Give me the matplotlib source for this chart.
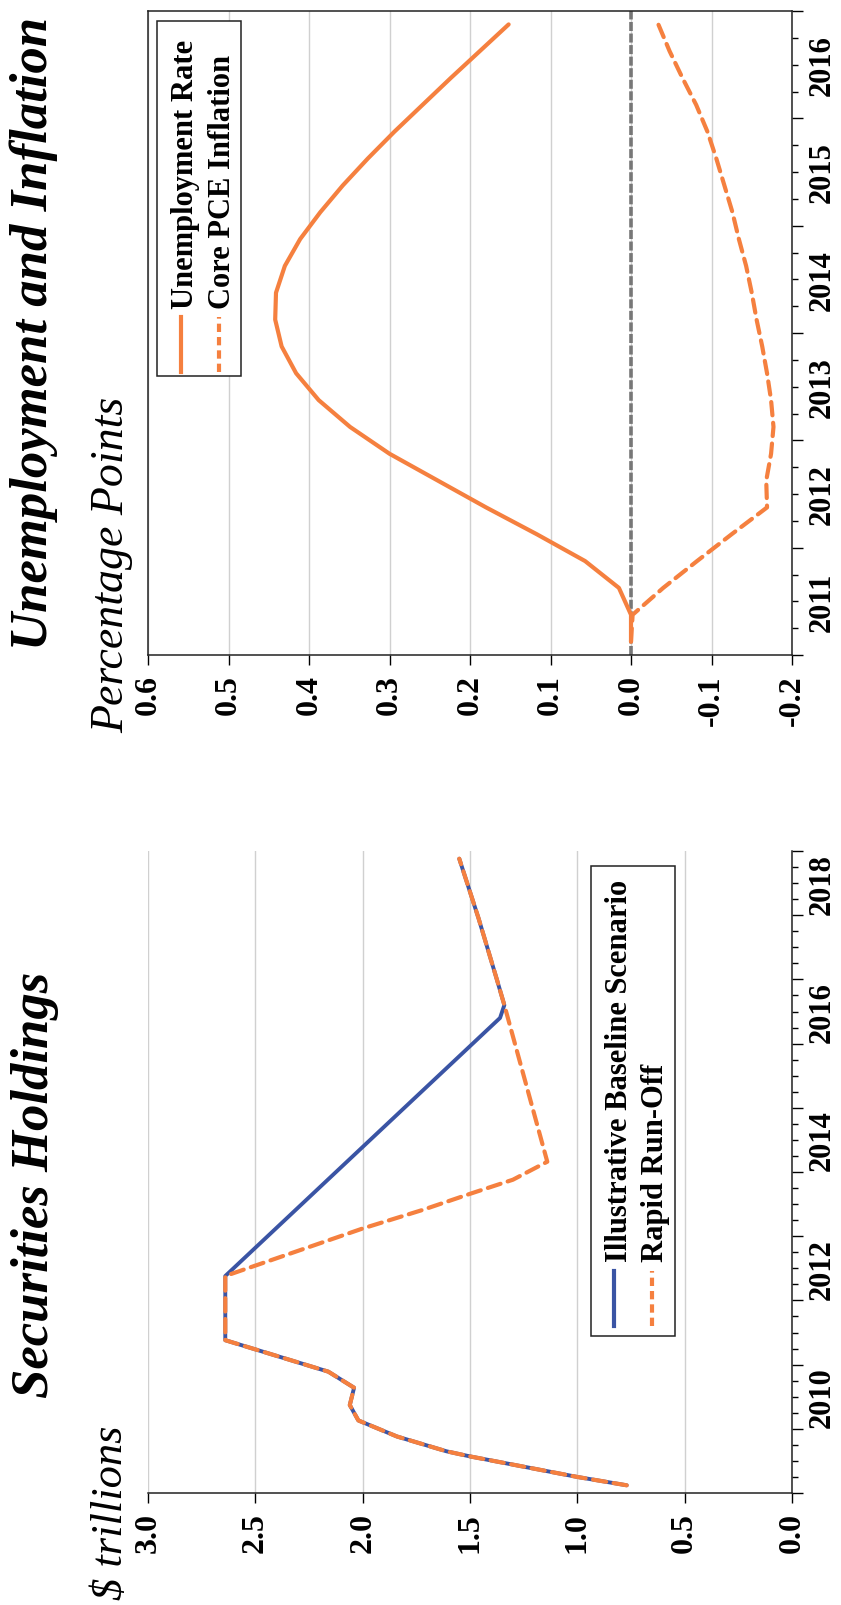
import matplotlib
matplotlib.use('Agg')
import matplotlib.pyplot as plt
from matplotlib import font_manager as fm
from matplotlib.patches import Rectangle
from matplotlib.lines import Line2D
from matplotlib.ticker import FixedLocator, FormatStrFormatter

# ---- data: securities holdings ($ trillions) ----
base_dates = [2009.12, 2009.25, 2009.57, 2009.65, 2009.88, 2010.13, 2010.37, 2010.64,
              2010.89, 2011.38, 2012.38, 2016.40, 2016.60, 2017.00, 2017.95, 2018.88]
base_vals = [0.77, 1.00, 1.50, 1.61, 1.84, 2.02, 2.06, 2.04,
             2.16, 2.64, 2.64, 1.36, 1.34, 1.375, 1.46, 1.55]

runoff_dates = [2009.12, 2009.25, 2009.57, 2009.65, 2009.88, 2010.13, 2010.37, 2010.64,
                2010.89, 2011.38, 2012.38, 2013.12, 2013.41, 2013.66, 2013.88, 2014.16,
                2016.60, 2017.00, 2017.95, 2018.88]
runoff_vals = [0.77, 1.00, 1.50, 1.61, 1.84, 2.02, 2.06, 2.04,
               2.16, 2.64, 2.64, 2.00, 1.72, 1.50, 1.30, 1.14,
               1.34, 1.375, 1.46, 1.55]

# ---- data: unemployment and inflation (percentage points) ----
q_dates = [2011.125, 2011.375, 2011.625, 2011.875, 2012.125, 2012.375, 2012.625, 2012.875,
           2013.125, 2013.375, 2013.625, 2013.875, 2014.125, 2014.375, 2014.625, 2014.875,
           2015.125, 2015.375, 2015.625, 2015.875, 2016.125, 2016.375, 2016.625, 2016.875]
unemp = [0.0, 0.0, 0.015, 0.057, 0.117, 0.18, 0.24, 0.30,
         0.349, 0.388, 0.416, 0.434, 0.442, 0.441, 0.430, 0.411,
         0.386, 0.358, 0.327, 0.294, 0.259, 0.224, 0.188, 0.152]
core_pce = [0.0, -0.002, -0.04, -0.082, -0.125, -0.169, -0.168, -0.174,
            -0.177, -0.174, -0.169, -0.163, -0.156, -0.150, -0.143, -0.134,
            -0.126, -0.116, -0.106, -0.095, -0.081, -0.064, -0.048, -0.034]

sec_ticks = [3.0, 2.5, 2.0, 1.5, 1.0, 0.5, 0.0]
sec_years = [2010, 2012, 2014, 2016, 2018]
pp_ticks = [0.6, 0.5, 0.4, 0.3, 0.2, 0.1, 0.0, -0.1, -0.2]
pp_years = [2011, 2012, 2013, 2014, 2015, 2016]

BLUE = '#3a54a4'
ORANGE = '#f5803f'
GRID = '#d0d0d0'


def serif_for(style, bold):
    # first Times-like family that really has this style installed
    for fam in ['Liberation Serif', 'Nimbus Roman', 'Times New Roman', 'DejaVu Serif']:
        for f in fm.fontManager.ttflist:
            w = f.weight if isinstance(f.weight, int) else (700 if f.weight == 'bold' else 400)
            if f.name == fam and f.style == style and ((w >= 600) == bold):
                return fam
    return 'DejaVu Serif'


SERIF = serif_for('normal', True)
SERIF_BI = serif_for('italic', True)
SERIF_I = serif_for('italic', False)

W, H = 841, 1606
fig = plt.figure(figsize=(W / 100, H / 100), dpi=100)


def fx(px):
    return px / W


def fy(py):
    return 1 - py / H


# chart is drawn turned a quarter turn: time runs up, values run right-to-left
ax_u = fig.add_axes([fx(148), fy(656), (792 - 148) / W, (656 - 12) / H])
ax_l = fig.add_axes([fx(148), fy(1494), (792 - 148) / W, (1494 - 852) / H])


def style_axis(ax, vticks, y0, y1, years):
    ax.set_xlim(vticks[0], vticks[-1])
    ax.set_ylim(y0, y1)
    ax.xaxis.set_major_locator(FixedLocator(vticks))
    ax.xaxis.set_major_formatter(FormatStrFormatter('%.1f'))
    ax.tick_params(axis='x', direction='out', length=7, width=1, pad=7,
                   labelsize=23, labelrotation=90)
    for lab in ax.get_xticklabels():
        lab.set_fontfamily(SERIF)
        lab.set_fontweight('bold')
    ax.grid(axis='x', color=GRID, lw=1)
    ax.set_axisbelow(True)

    ax.yaxis.tick_right()
    ax.yaxis.set_major_locator(FixedLocator(list(range(int(y0), int(y1) + 1))))
    ax.yaxis.set_minor_locator(FixedLocator([y0 + 0.25 * k for k in range(int((y1 - y0) * 4) + 1)]))
    ax.tick_params(axis='y', which='major', direction='out', length=8, width=1,
                   labelright=False)
    ax.tick_params(axis='y', which='minor', direction='out', length=4.5, width=1)

    sec = ax.secondary_yaxis('right')
    sec.set_yticks([y + 0.5 for y in years])
    sec.set_yticklabels([str(y) for y in years], rotation=90, va='center',
                        fontfamily=SERIF, fontweight='bold', fontsize=22)
    sec.tick_params(length=0, pad=11)
    sec.spines['right'].set_visible(False)
    for s in ax.spines.values():
        s.set_linewidth(1.1)
        s.set_color('#222222')


style_axis(ax_u, pp_ticks, 2011, 2017, pp_years)
style_axis(ax_l, sec_ticks, 2009, 2019, sec_years)
ax_l.spines['top'].set_visible(False)
ax_l.spines['left'].set_visible(False)

# lines
ax_l.plot(base_vals, base_dates, color=BLUE, lw=2.8, solid_capstyle='round')
ax_l.plot(runoff_vals, runoff_dates, color=ORANGE, lw=3.0, dashes=(3.2, 1.8),
          dash_capstyle='round')

ax_u.axvline(0, color='#777777', lw=2.6, dashes=(2.5, 0.7), zorder=1.5)
ax_u.plot(unemp, q_dates, color=ORANGE, lw=3.0, solid_capstyle='round')
ax_u.plot(core_pce, q_dates, color=ORANGE, lw=3.0, dashes=(3.2, 1.8), dash_capstyle='round')

# titles and units
fig.text(fx(48), fy(1398), 'Securities Holdings', rotation=90, rotation_mode='anchor',
         ha='left', va='baseline', fontfamily=SERIF_BI, fontweight='bold',
         fontstyle='italic', fontsize=38)
fig.text(fx(47), fy(650), 'Unemployment and Inflation', rotation=90, rotation_mode='anchor',
         ha='left', va='baseline', fontfamily=SERIF_BI, fontweight='bold',
         fontstyle='italic', fontsize=38)
fig.text(fx(122), fy(1600), '$ trillions', rotation=90, rotation_mode='anchor',
         ha='left', va='baseline', fontfamily=SERIF_I, fontstyle='italic', fontsize=32)
fig.text(fx(123), fy(733), 'Percentage Points', rotation=90, rotation_mode='anchor',
         ha='left', va='baseline', fontfamily=SERIF_I, fontstyle='italic', fontsize=33)


# hand-made legends (turned like the rest of the chart)
def legend_box(x0, y0, x1, y1, rows):
    fig.patches.append(Rectangle((fx(x0), fy(y1)), (x1 - x0) / W, (y1 - y0) / H,
                                 transform=fig.transFigure, facecolor='white',
                                 edgecolor='#222222', lw=1.1, zorder=3))
    for hx, tx, ty, h0, h1, label, color, dashed in rows:
        kw = dict(dashes=(2, 1.2)) if dashed else {}
        fig.lines.append(Line2D([fx(hx), fx(hx)], [fy(h0), fy(h1)], transform=fig.transFigure,
                                color=color, lw=3, zorder=4, **kw))
        fig.text(fx(tx), fy(ty), label, rotation=90, rotation_mode='anchor',
                 ha='left', va='baseline', fontfamily=SERIF, fontweight='bold',
                 fontsize=22, zorder=4)


legend_box(157, 22, 241, 377, [
    (181, 193, 309, 373, 318, 'Unemployment Rate', ORANGE, False),
    (219, 230, 309, 373, 318, 'Core PCE Inflation', ORANGE, True),
])
legend_box(591, 867, 675, 1337, [
    (614, 627, 1262, 1327, 1272, 'Illustrative Baseline Scenario', BLUE, False),
    (652, 663, 1262, 1327, 1272, 'Rapid Run-Off', ORANGE, True),
])

fig.savefig('out.png', dpi=100)
